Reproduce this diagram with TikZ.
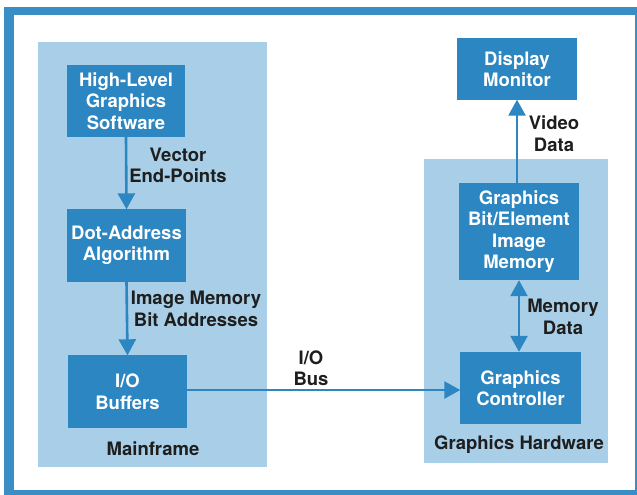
\documentclass[tikz,border=0pt]{standalone}
\usepackage{fontspec}
\setmainfont{TeX Gyre Heros}
\usetikzlibrary{arrows.meta}
\definecolor{boxblue}{HTML}{2C86C2}
\definecolor{panelblue}{HTML}{A8CFE7}
\definecolor{frameblue}{HTML}{3A8EC6}
\definecolor{labeldark}{HTML}{1E1E1E}
\tikzset{
  blk/.style={fill=boxblue, text=white, inner sep=0pt, align=center,
    font=\fontsize{18.5}{21.5}\selectfont\bfseries},
  lbl/.style={text=labeldark, inner sep=0pt, align=center,
    font=\fontsize{18.5}{21.5}\selectfont\bfseries},
  arr/.style={draw=boxblue, line width=2.6pt,
    -{Triangle[width=17pt,length=16pt]}, shorten >=-0.5pt},
  darr/.style={draw=boxblue, line width=2.6pt,
    {Triangle[width=17pt,length=16pt]}-{Triangle[width=17pt,length=16pt]}},
}
\begin{document}
\begin{tikzpicture}[x=1pt,y=-1pt]
\useasboundingbox (0,0) rectangle (637,495);
% frame
\fill[frameblue] (4,7) rectangle (645,505);
\fill[white] (14,15) rectangle (635,490);
% panels
\fill[panelblue] (38,42) rectangle (267,467);
\fill[panelblue] (424,159) rectangle (608,463);
% boxes
\node[blk, minimum width=118pt, minimum height=72pt] (hl) at (126,101) {High-Level\\Graphics\\Software};
\node[blk, minimum width=119pt, minimum height=73pt] (da) at (126.5,245.5) {Dot-Address\\Algorithm};
\node[blk, minimum width=119pt, minimum height=73pt] (io) at (127.5,391.5) {I/O\\Buffers};
\node[blk, minimum width=120pt, minimum height=62pt] (dm) at (517,69) {Display\\Monitor};
\node[blk, minimum width=120pt, minimum height=97pt] (gb) at (519,231.5) {Graphics\\Bit/Element\\Image\\Memory};
\node[blk, minimum width=121pt, minimum height=72pt] (gc) at (520.5,388) {Graphics\\Controller};
% labels
\node[lbl] (l1) at (178,165.5) {Vector\\End-Points};
\node[lbl] (l2) at (196,309) {Image Memory\\Bit Addresses};
\node[lbl] (l3) at (554,133.5) {Video\\Data};
\node[lbl] (l4) at (563,317) {Memory\\Data};
\node[lbl] (l5) at (311,368) {I/O\\Bus};
\node[lbl] (l6) at (153,449) {Mainframe};
\node[lbl] (l7) at (519,445) {Graphics Hardware};
% connectors
\draw[arr] (hl.south) -- (da.north);
\draw[arr] (da.south) -- (io.north);
\draw[arr] ([yshift=1.5pt]io.east) -- ([yshift=-2pt]gc.west);
\draw[arr] (gb.north -| dm.south) -- (dm.south);
\draw[darr] (gb.south) -- (gb.south |- gc.north);
\end{tikzpicture}
\end{document}
